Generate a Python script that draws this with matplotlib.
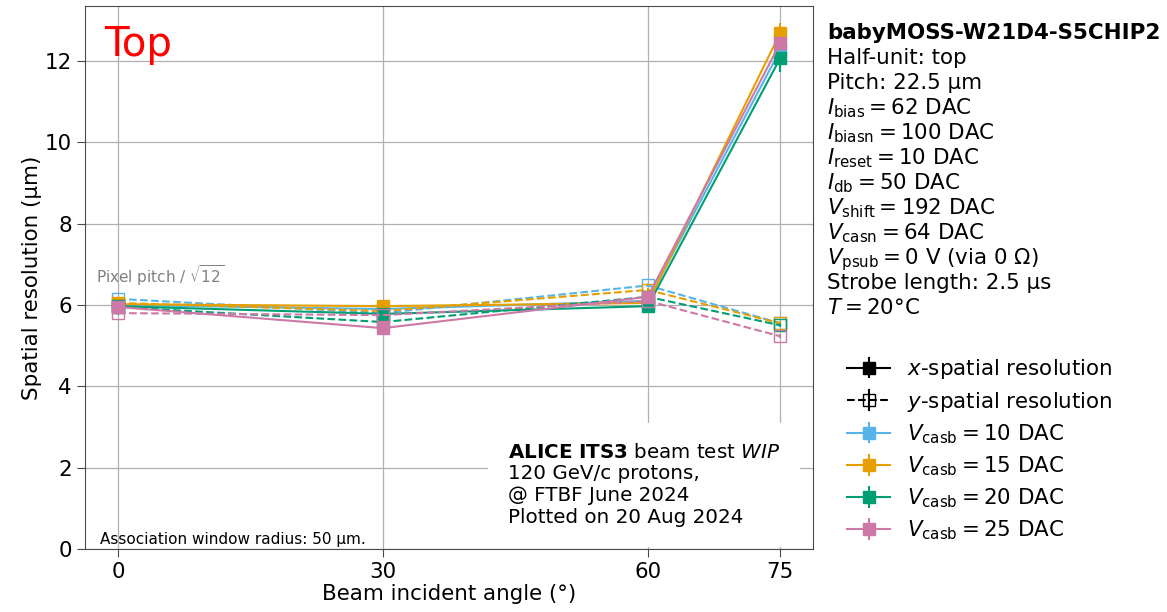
import numpy as np
import matplotlib
matplotlib.use("Agg")
from matplotlib import pyplot as plt


angles = [0, 30, 60, 75]
vcasb_values = [10, 15, 20, 25]
colors = ["#56B4E9", "#E69F00", "#009E73", "#CC79A7"]

# x-spatial resolution (um), one list per Vcasb setting
res_x_10 = [6.00, 5.90, 6.10, 12.27]
res_x_15 = [6.02, 5.97, 6.05, 12.69]
res_x_20 = [5.97, 5.78, 5.97, 12.07]
res_x_25 = [5.95, 5.43, 6.20, 12.44]

# y-spatial resolution (um)
res_y_10 = [6.15, 5.80, 6.48, 5.55]
res_y_15 = [6.05, 5.85, 6.37, 5.55]
res_y_20 = [5.95, 5.58, 6.20, 5.50]
res_y_25 = [5.80, 5.75, 6.10, 5.23]

# statistical errors (um)
err_x_10 = [0.05, 0.05, 0.06, 0.25]
err_x_15 = [0.05, 0.05, 0.06, 0.25]
err_x_20 = [0.05, 0.05, 0.06, 0.35]
err_x_25 = [0.05, 0.05, 0.06, 0.30]
err_y_10 = [0.04, 0.04, 0.05, 0.05]
err_y_15 = [0.04, 0.04, 0.05, 0.05]
err_y_20 = [0.04, 0.04, 0.05, 0.05]
err_y_25 = [0.04, 0.04, 0.05, 0.05]

res_x = [res_x_10, res_x_15, res_x_20, res_x_25]
res_y = [res_y_10, res_y_15, res_y_20, res_y_25]
err_x = [err_x_10, err_x_15, err_x_20, err_x_25]
err_y = [err_y_10, err_y_15, err_y_20, err_y_25]

info_lines = [
    "Half-unit: top",
    "Pitch: 22.5 μm",
    r"$I_{\rm bias} = 62$ DAC",
    r"$I_{\rm biasn} = 100$ DAC",
    r"$I_{\rm reset} = 10$ DAC",
    r"$I_{\rm db} = 50$ DAC",
    r"$V_{\rm shift} = 192$ DAC",
    r"$V_{\rm casn} = 64$ DAC",
    r"$V_{\rm psub} = 0$ V (via 0 Ω)",
    "Strobe length: 2.5 μs",
    r"$T = 20$°C",
]

FS = 15.4
SPINE = "#4a4a4a"

fig = plt.figure(figsize=(11.67, 6.12), dpi=100)
ax = fig.add_axes([0.0728, 0.1029, 0.6238, 0.8873])

for col, rx, ry, ex, ey in zip(colors, res_x, res_y, err_x, err_y):
    ax.errorbar(angles, rx, yerr=ex, fmt="s-", color=col, markersize=8,
                linewidth=1.5, elinewidth=1.5, capsize=0)
    ax.errorbar(angles, ry, yerr=ey, fmt="s--", color=col, markersize=8,
                markerfacecolor="none", linewidth=1.5, elinewidth=1.5, capsize=0)

# legend proxies
h_x = ax.errorbar([np.nan], [np.nan], yerr=[0.1], fmt="s-", color="black",
                  markersize=8, linewidth=1.5)
h_y = ax.errorbar([np.nan], [np.nan], yerr=[0.1], fmt="s--", color="black",
                  markersize=8, markerfacecolor="none", linewidth=1.5)
handles = [h_x, h_y]
labels = [r"$x$-spatial resolution", r"$y$-spatial resolution"]
for col, v in zip(colors, vcasb_values):
    handles.append(ax.errorbar([np.nan], [np.nan], yerr=[0.1], fmt="s-", color=col,
                               markersize=8, linewidth=1.5))
    labels.append(r"$V_{\rm casb} = %d$ DAC" % v)

ax.set_xlim(-3.74, 78.7)
ax.set_ylim(0, 13.35)
ax.set_xticks(angles)
ax.set_yticks([0, 2, 4, 6, 8, 10, 12])
ax.tick_params(labelsize=FS, length=6, color=SPINE)
for sp in ax.spines.values():
    sp.set_color(SPINE)
ax.grid(True, color="#b0b0b0", linewidth=0.9)
ax.set_xlabel("Beam incident angle (°)", fontsize=FS, labelpad=1)
ax.set_ylabel("Spatial resolution (μm)", fontsize=FS, labelpad=2)

ax.text(0.026, 0.965, "Top", color="red", fontsize=29, va="top", transform=ax.transAxes)
ax.text(-2.5, 6.55, r"Pixel pitch / $\sqrt{12}$", color="gray", fontsize=11)
ax.text(0.021, 0.003, "Association window radius: 50 μm.", fontsize=11,
        va="bottom", transform=ax.transAxes)
ax.text(0.581, 0.041,
        r"$\bf{ALICE\ ITS3}$ beam test $\it{WIP}$" "\n120 GeV/c protons,\n@ FTBF June 2024\nPlotted on 20 Aug 2024",
        fontsize=14.3, va="bottom", ha="left", transform=ax.transAxes, zorder=2.4,
        linespacing=1.18,
        bbox=dict(facecolor="white", edgecolor="none", boxstyle="square,pad=1.0"))

fig.text(0.709, 1 - 39 / 612, "babyMOSS-W21D4-S5CHIP2", fontsize=FS,
         fontweight="bold", va="baseline")
for i, line in enumerate(info_lines):
    fig.text(0.709, 1 - (64 + 25 * i) / 612, line, fontsize=FS, va="baseline")

fig.legend(handles, labels, loc="upper left", bbox_to_anchor=(0.7095, 0.448),
           frameon=False, fontsize=FS, labelspacing=0.4, handlelength=2.0)

fig.savefig("out.png", dpi=100)
